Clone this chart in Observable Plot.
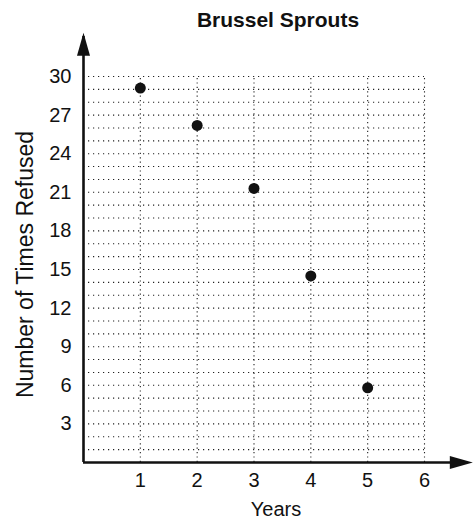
<!DOCTYPE html>
<html>
<head>
<meta charset="utf-8">
<script src="https://cdn.jsdelivr.net/npm/d3@7"></script>
<script src="https://cdn.jsdelivr.net/npm/@observablehq/plot@0.6"></script>
<style>
  html, body { margin: 0; padding: 0; background: #fff; overflow: hidden; }
  #wrap { position: relative; width: 474px; height: 522px; }
  #title { position: absolute; left: 128px; width: 300px; top: 9px; text-align: center;
           font: bold 21px "Liberation Sans", Arial, sans-serif; line-height: 1; color: #111; }
</style>
</head>
<body>
<div id="wrap">
  <div id="title">Brussel Sprouts</div>
  <div id="chart"></div>
</div>
<script>
const years = [1, 2, 3, 4, 5];
const refused = [29.1, 26.2, 21.3, 14.5, 5.8];
const xTicks = [1, 2, 3, 4, 5, 6];
const yTicks = [3, 6, 9, 12, 15, 18, 21, 24, 27, 30];
const yGridValues = d3.range(1, 31);
const xGridValues = [1, 2, 3, 4, 5, 6];
const xAxisEnd = 6.85;
const yAxisEnd = 33.4;

const data = years.map((y, i) => ({year: y, refused: refused[i]}));

const arrowHead = {
  draw(context) {
    context.moveTo(0, 0);
    context.lineTo(-6.5, 23);
    context.lineTo(6.5, 23);
    context.closePath();
  }
};

const font = '"Liberation Sans", Arial, sans-serif';

const plot = Plot.plot({
  width: 474,
  height: 522,
  marginLeft: 83,
  marginRight: 50,
  marginTop: 76,
  marginBottom: 60,
  style: {fontFamily: font, fontSize: "20px", color: "#111", background: "#fff"},
  x: {domain: [0, 6]},
  y: {domain: [0, 30]},
  marks: [
    Plot.ruleY(yGridValues, {x1: 0, x2: 6, stroke: "#222", strokeWidth: 1.1, strokeDasharray: "1.2,3.8"}),
    Plot.ruleX(xGridValues, {y1: 0, y2: 30, stroke: "#222", strokeWidth: 1.1, strokeDasharray: "1.2,3.2"}),
    Plot.axisX(xTicks, {tickSize: 0, tickPadding: 10, fontSize: 20, label: null}),
    Plot.axisY(yTicks, {tickSize: 0, tickPadding: 12, fontSize: 20, label: null}),
    Plot.ruleY([0], {x1: 0, x2: xAxisEnd - 0.1, stroke: "#111", strokeWidth: 2.6}),
    Plot.ruleX([0], {y1: 0, y2: yAxisEnd - 0.3, stroke: "#111", strokeWidth: 2.6}),
    Plot.dot([{x: 0, y: yAxisEnd}], {x: "x", y: "y", symbol: arrowHead, fill: "#111", stroke: "none", r: 5}),
    Plot.dot([{x: xAxisEnd, y: 0}], {x: "x", y: "y", symbol: arrowHead, fill: "#111", stroke: "none", r: 5, rotate: 90}),
    Plot.dot(data, {x: "year", y: "refused", r: 5.5, fill: "#111", stroke: "none"}),
    Plot.text(["Number of Times Refused"], {frameAnchor: "left", textAnchor: "middle", rotate: -90, dx: -58, dy: -5, fontSize: 23, fill: "#111"}),
    Plot.text(["Years"], {frameAnchor: "bottom", dx: 22, dy: 53, fontSize: 20, fill: "#111"})
  ]
});
document.getElementById("chart").appendChild(plot);
</script>
</body>
</html>
